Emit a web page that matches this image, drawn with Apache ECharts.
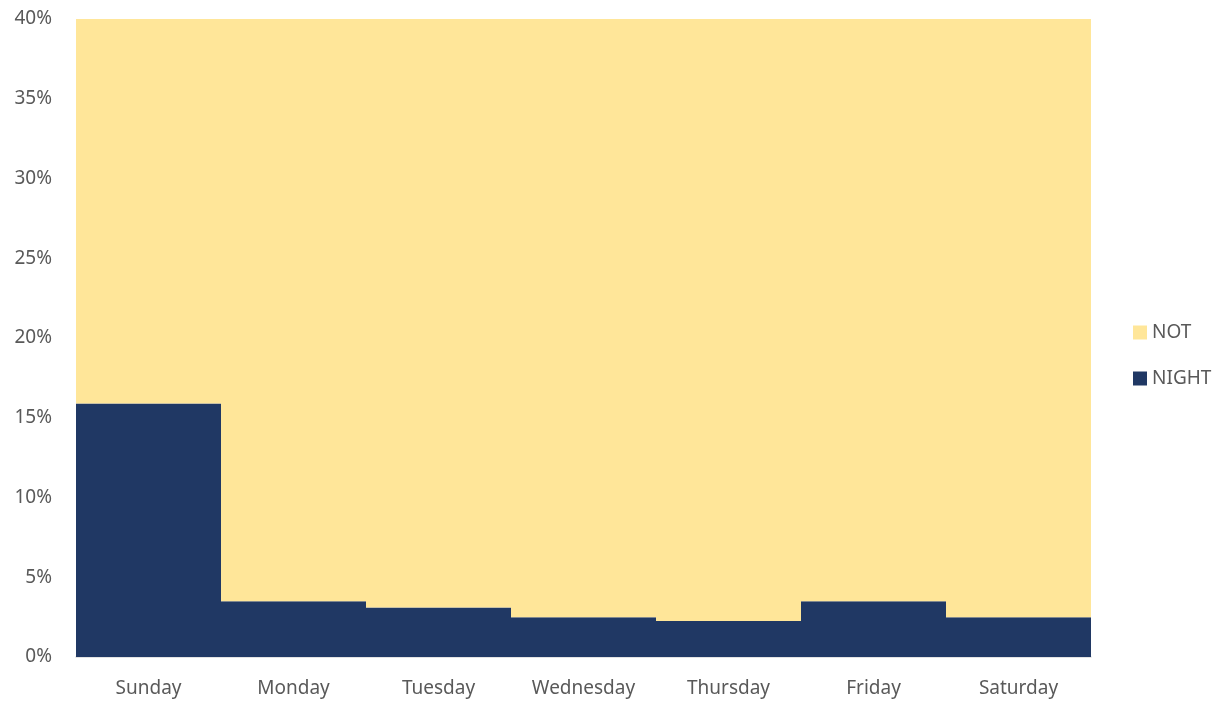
<!DOCTYPE html>
<html>
<head>
<meta charset="utf-8">
<script src="https://cdn.jsdelivr.net/npm/echarts@6/dist/echarts.min.js"></script>
<style>
  html, body { margin: 0; padding: 0; background: #fff; }
  #chart { width: 1223px; height: 702px; }
</style>
</head>
<body>
<div id="chart"></div>
<script>
// 요일별 데이터
const days = ['Sunday', 'Monday', 'Tuesday', 'Wednesday', 'Thursday', 'Friday', 'Saturday'];
const night = [15.9, 3.5, 3.1, 2.5, 2.25, 3.5, 2.5];
const notNight = [84.1, 96.5, 96.9, 97.5, 97.75, 96.5, 97.5];

const chart = echarts.init(document.getElementById('chart'));

const textColor = '#595959';
const font = 'Noto Sans';
const navy = '#203864';
const yellow = '#FFE699';

chart.setOption({
    animation: false,
    textStyle: { fontFamily: font },
    // 폭 1015 = 7 x 145 → 막대 경계가 정수 픽셀에 맞도록
    grid: { left: 76, right: 132, top: 19, bottom: 45 },
    legend: {
        orient: 'vertical',
        left: 1128,
        top: 318,
        itemWidth: 14,
        itemHeight: 14,
        itemGap: 27,
        icon: 'rect',
        data: ['NOT', 'NIGHT'],
        textStyle: { fontSize: 19, color: textColor, fontFamily: font }
    },
    xAxis: {
        type: 'category',
        data: days,
        axisLine: { lineStyle: { color: '#D9D9D9', width: 1.5 } },
        axisTick: { show: false },
        axisLabel: { fontSize: 19, color: textColor, margin: 22 }
    },
    yAxis: {
        type: 'value',
        min: 0,
        max: 40,
        interval: 5,
        axisLine: { show: false },
        axisTick: { show: false },
        splitLine: { show: false },
        axisLabel: { fontSize: 19, color: textColor, margin: 24, formatter: '{value}%' }
    },
    series: [
        {
            name: 'NIGHT',
            type: 'bar',
            stack: 'total',
            data: night,
            barCategoryGap: 0,
            itemStyle: { color: navy }
        },
        {
            name: 'NOT',
            type: 'bar',
            stack: 'total',
            data: notNight,
            barCategoryGap: 0,
            itemStyle: { color: yellow }
        }
    ]
});
</script>
</body>
</html>
